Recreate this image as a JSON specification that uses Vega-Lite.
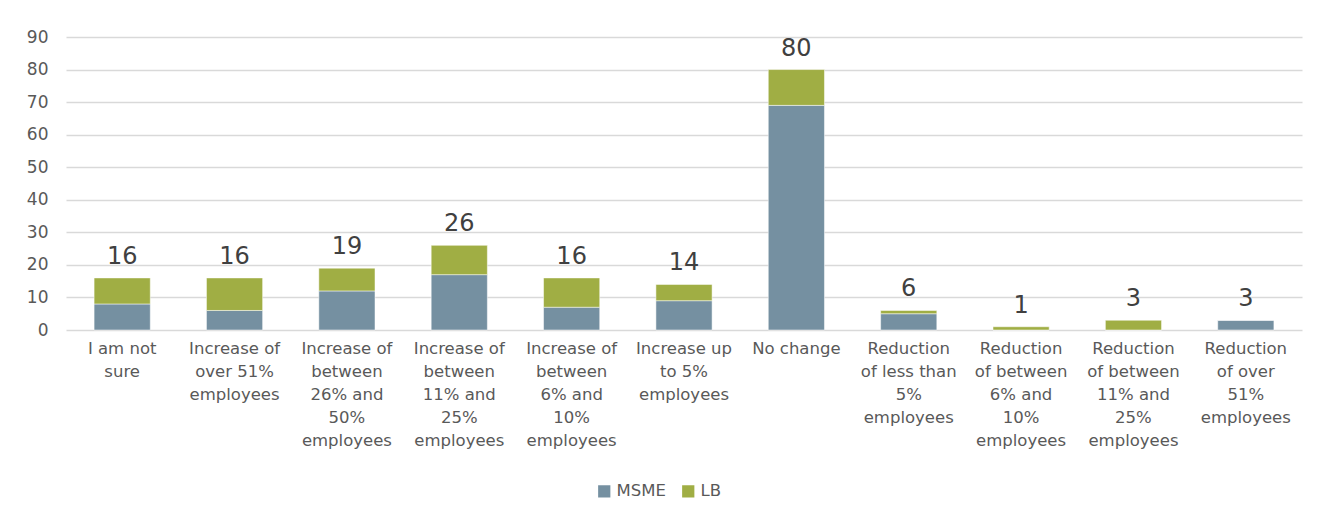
{
  "$schema": "https://vega.github.io/schema/vega-lite/v6.json",
  "width": 1236,
  "height": 293,
  "autosize": {"type": "none"},
  "padding": {"left": 66, "top": 37, "right": 36, "bottom": 192},
  "background": "white",
  "config": {
    "font": "DejaVu Sans",
    "view": {"stroke": null},
    "axis": {"labelColor": "#595959", "labelFont": "DejaVu Sans"},
    "axisY": {
      "title": null,
      "values": [0, 10, 20, 30, 40, 50, 60, 70, 80, 90],
      "labelOverlap": false,
      "grid": true,
      "gridColor": "#d9d9d9",
      "gridWidth": 1.5,
      "domain": false,
      "ticks": false,
      "labelFontSize": 17,
      "labelPadding": 18
    }
  },
  "data": {
    "values": [
      {"category": "I am not sure", "series": "MSME", "value": 8},
      {"category": "I am not sure", "series": "LB", "value": 8},
      {"category": "Increase of over 51% employees", "series": "MSME", "value": 6},
      {"category": "Increase of over 51% employees", "series": "LB", "value": 10},
      {"category": "Increase of between 26% and 50% employees", "series": "MSME", "value": 12},
      {"category": "Increase of between 26% and 50% employees", "series": "LB", "value": 7},
      {"category": "Increase of between 11% and 25% employees", "series": "MSME", "value": 17},
      {"category": "Increase of between 11% and 25% employees", "series": "LB", "value": 9},
      {"category": "Increase of between 6% and 10% employees", "series": "MSME", "value": 7},
      {"category": "Increase of between 6% and 10% employees", "series": "LB", "value": 9},
      {"category": "Increase up to 5% employees", "series": "MSME", "value": 9},
      {"category": "Increase up to 5% employees", "series": "LB", "value": 5},
      {"category": "No change", "series": "MSME", "value": 69},
      {"category": "No change", "series": "LB", "value": 11},
      {"category": "Reduction of less than 5% employees", "series": "MSME", "value": 5},
      {"category": "Reduction of less than 5% employees", "series": "LB", "value": 1},
      {"category": "Reduction of between 6% and 10% employees", "series": "MSME", "value": 0},
      {"category": "Reduction of between 6% and 10% employees", "series": "LB", "value": 1},
      {"category": "Reduction of between 11% and 25% employees", "series": "MSME", "value": 0},
      {"category": "Reduction of between 11% and 25% employees", "series": "LB", "value": 3},
      {"category": "Reduction of over 51% employees", "series": "MSME", "value": 3},
      {"category": "Reduction of over 51% employees", "series": "LB", "value": 0}
    ]
  },
  "encoding": {
    "x": {
      "field": "category",
      "type": "nominal",
      "sort": null,
      "scale": {"paddingInner": 0.5, "paddingOuter": 0.25},
      "axis": {
        "title": null,
        "labelAngle": 0,
        "labelFontSize": 16.5,
        "labelLineHeight": 23,
        "labelBaseline": "top",
        "labelPadding": 10,
        "labelLimit": 200,
        "labelOverlap": false,
        "ticks": false,
        "domain": false,
        "labelExpr": "({'I am not sure': ['I am not', 'sure'], 'Increase of over 51% employees': ['Increase of', 'over 51%', 'employees'], 'Increase of between 26% and 50% employees': ['Increase of', 'between', '26% and', '50%', 'employees'], 'Increase of between 11% and 25% employees': ['Increase of', 'between', '11% and', '25%', 'employees'], 'Increase of between 6% and 10% employees': ['Increase of', 'between', '6% and', '10%', 'employees'], 'Increase up to 5% employees': ['Increase up', 'to 5%', 'employees'], 'No change': ['No change'], 'Reduction of less than 5% employees': ['Reduction', 'of less than', '5%', 'employees'], 'Reduction of between 6% and 10% employees': ['Reduction', 'of between', '6% and', '10%', 'employees'], 'Reduction of between 11% and 25% employees': ['Reduction', 'of between', '11% and', '25%', 'employees'], 'Reduction of over 51% employees': ['Reduction', 'of over', '51%', 'employees']})[datum.label]"
      }
    }
  },
  "layer": [
    {
      "mark": {"type": "bar", "stroke": "white", "strokeWidth": 0.5},
      "encoding": {
        "y": {
          "field": "value",
          "type": "quantitative",
          "aggregate": "sum",
          "stack": "zero",
          "title": null,
          "scale": {"domain": [0, 90], "nice": false}
        },
        "color": {
          "field": "series",
          "type": "nominal",
          "scale": {"domain": ["MSME", "LB"], "range": ["#7590a1", "#a0ae44"]},
          "legend": {
            "title": null,
            "orient": "none",
            "direction": "horizontal",
            "legendX": 530,
            "legendY": 446,
            "symbolType": "square",
            "symbolSize": 150,
            "symbolStrokeWidth": 0,
            "labelFontSize": 16.5,
            "labelColor": "#595959",
            "columnPadding": 14,
            "labelOffset": 4
          }
        },
        "order": {"field": "series", "sort": "descending"}
      }
    },
    {
      "mark": {"type": "text", "baseline": "bottom", "dy": -9, "fontSize": 24, "color": "#404040"},
      "encoding": {
        "y": {"field": "value", "type": "quantitative", "aggregate": "sum", "title": null},
        "text": {"field": "value", "type": "quantitative", "aggregate": "sum"}
      }
    }
  ]
}
